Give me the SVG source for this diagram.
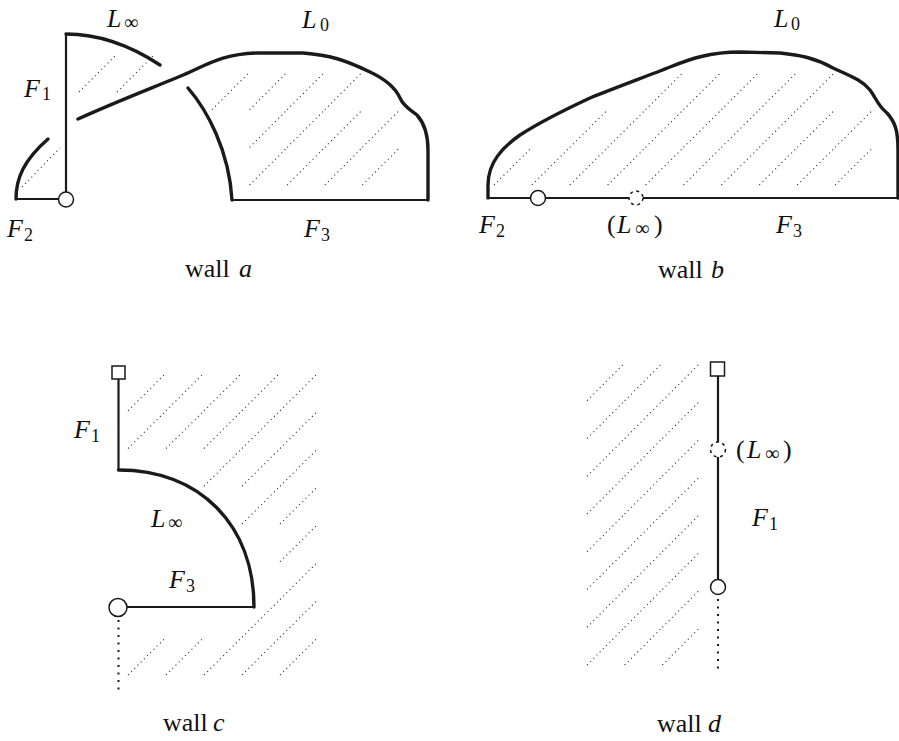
<svg xmlns="http://www.w3.org/2000/svg" width="899" height="741" viewBox="0 0 899 741">
<style>
.thick{fill:none;stroke:#1a1a1a;stroke-width:3.4;stroke-linecap:round;stroke-linejoin:round}
.thin{fill:none;stroke:#1a1a1a;stroke-width:2.2}
.hatch{fill:none;stroke:#333;stroke-width:1.1;stroke-dasharray:1.1 3.4}
.dots{fill:none;stroke:#1a1a1a;stroke-width:2;stroke-dasharray:2 5.5}
.open{fill:#fff;stroke:#1a1a1a;stroke-width:1.5}
.dash{fill:#fff;stroke:#1a1a1a;stroke-width:1.5;stroke-dasharray:3 3.6}
.m{font-family:"Liberation Serif","Times New Roman",serif;font-style:italic;font-size:26px;fill:#111}
.r{font-family:"Liberation Serif","Times New Roman",serif;font-size:26px;fill:#111}
.s{font-family:"Liberation Serif","Times New Roman",serif;font-size:18px;fill:#111}
.i{font-family:"Liberation Serif","Times New Roman",serif;font-size:20px;fill:#111}
</style>
<rect width="899" height="741" fill="#fff"/>

<g id="wall-a">
  <path class="hatch" d="M79,92l38,-38M117,92l38,-38M22,187l38,-39
  M212,109.7l37.6,-37.7M249.6,109.7l37.6,-37.7M287.2,109.7l37.6,-37.7M324.8,109.7l37.6,-37.7
  M249.6,147.4l37.6,-37.7M287.2,147.4l37.6,-37.7M324.8,147.4l37.6,-37.7M362.4,147.4l37.6,-37.7
  M249.6,185l37.6,-37.6M287.2,185l37.6,-37.6M324.8,185l37.6,-37.6M362.4,185l37.6,-37.6"/>
  <path class="thin" d="M66,34V192"/>
  <path class="thick" d="M66,34Q113,34 160,65"/>
  <path class="thick" d="M16,199C16,178 24,160 48,139"/>
  <path class="thin" d="M17,199H59"/>
  <circle class="open" cx="66" cy="199.5" r="7.5"/>
  <path class="thick" d="M78,119C120,100 160,85 190,72C210,63 225,54 257,53L303,53C330,55 345,60 370,72C385,79 395,87 400,98C404,107 412,111 417,115C425,124 428,135 428,150L428,200"/>
  <path class="thick" d="M188,88C207,110 229,150 232,200"/>
  <path class="thin" d="M232,200H429"/>
  <text class="m" x="107" y="27">L</text><text class="i" x="124" y="29">∞</text>
  <text class="m" x="302" y="28">L</text><text class="s" x="320" y="31">0</text>
  <text class="m" x="24" y="97">F</text><text class="s" x="42" y="100">1</text>
  <text class="m" x="7" y="237">F</text><text class="s" x="24" y="241">2</text>
  <text class="m" x="304" y="237">F</text><text class="s" x="321" y="241">3</text>
  <text class="r" x="185" y="277">wall</text><text class="m" x="239" y="277">a</text>
</g>

<g id="wall-b">
  <path class="hatch" d="M645.6,109.7l37.9,-37.7M683.5,109.7l37.9,-37.7M721.4,109.7l37.9,-37.7M759.3,109.7l37.9,-37.7M797.2,109.7l37.9,-37.7
  M569.8,147.4l37.9,-37.7M607.7,147.4l37.9,-37.7M645.6,147.4l37.9,-37.7M683.5,147.4l37.9,-37.7M721.4,147.4l37.9,-37.7M759.3,147.4l37.9,-37.7M797.2,147.4l37.9,-37.7M835.1,147.4l37.9,-37.7
  M494,185l37.9,-37.6M531.9,185l37.9,-37.6M569.8,185l37.9,-37.6M607.7,185l37.9,-37.6M645.6,185l37.9,-37.6M683.5,185l37.9,-37.6M721.4,185l37.9,-37.6M759.3,185l37.9,-37.6M797.2,185l37.9,-37.6M835.1,185l37.9,-37.6"/>
  <path class="thick" d="M488,198L488,185C488,162 503,147 520,135C537,124 560,112 590,98C620,86 650,75 670,67C690,59 710,52 740,52L780,53C800,55 815,58 833,68C850,76 862,80 870,90C876,98 878,106 887,113C895,122 898,130 898,150L898,198"/>
  <path class="thin" d="M488,198H898"/>
  <circle class="open" cx="538" cy="198" r="7.5"/>
  <circle class="dash" cx="636" cy="198" r="7"/>
  <text class="m" x="774" y="27">L</text><text class="s" x="791" y="30">0</text>
  <text class="m" x="479" y="233">F</text><text class="s" x="496" y="237">2</text>
  <text class="r" x="607" y="233">(</text><text class="m" x="617" y="233">L</text><text class="i" x="635" y="235">∞</text><text class="r" x="654" y="233">)</text>
  <text class="m" x="776" y="233">F</text><text class="s" x="793" y="237">3</text>
  <text class="r" x="658" y="278">wall</text><text class="m" x="711" y="278">b</text>
</g>

<g id="wall-c">
  <path class="hatch" d="M128,410.75l38,-37.75M166,410.75l38,-37.75M204,410.75l38,-37.75M242,410.75l38,-37.75M280,410.75l38,-37.75
  M128,448.5l38,-37.75M166,448.5l38,-37.75M204,448.5l38,-37.75M242,448.5l38,-37.75M280,448.5l38,-37.75
  M204,486.25l38,-37.75M242,486.25l38,-37.75M280,486.25l38,-37.75
  M242,524l38,-37.75M280,524l38,-37.75
  M280,561.75l38,-37.75
  M280,599.5l38,-37.75
  M242,637.25l38,-37.75M280,637.25l38,-37.75
  M128,675l38,-37.75M166,675l38,-37.75M204,675l38,-37.75M242,675l38,-37.75M280,675l38,-37.75"/>
  <rect class="open" x="112" y="366" width="13" height="13"/>
  <path class="thin" d="M118.5,379V470"/>
  <path class="thick" d="M118.5,470C200,470 254,525 254,607"/>
  <path class="thin" d="M126,607H254"/>
  <circle class="open" cx="118" cy="607.5" r="9"/>
  <path class="dots" d="M118.5,620V690"/>
  <text class="m" x="74" y="438">F</text><text class="s" x="91" y="442">1</text>
  <text class="m" x="151" y="527">L</text><text class="i" x="168" y="529">∞</text>
  <text class="m" x="169" y="588">F</text><text class="s" x="186" y="592">3</text>
  <text class="r" x="163" y="731">wall</text><text class="m" x="213" y="731">c</text>
</g>

<g id="wall-d">
  <path class="hatch" d="M587,400.75l37.7,-37.75M624.7,400.75l37.7,-37.75M662.4,400.75l37.7,-37.75
  M587,438.5l37.7,-37.75M624.7,438.5l37.7,-37.75M662.4,438.5l37.7,-37.75
  M587,476.25l37.7,-37.75M624.7,476.25l37.7,-37.75M662.4,476.25l37.7,-37.75
  M587,514l37.7,-37.75M624.7,514l37.7,-37.75M662.4,514l37.7,-37.75
  M587,551.75l37.7,-37.75M624.7,551.75l37.7,-37.75M662.4,551.75l37.7,-37.75
  M587,589.5l37.7,-37.75M624.7,589.5l37.7,-37.75M662.4,589.5l37.7,-37.75
  M587,627.25l37.7,-37.75M624.7,627.25l37.7,-37.75M662.4,627.25l37.7,-37.75
  M587,665l37.7,-37.75M624.7,665l37.7,-37.75M662.4,665l37.7,-37.75"/>
  <path class="thin" d="M718,376V580"/>
  <rect class="open" x="710.5" y="362" width="14" height="14"/>
  <circle class="dash" cx="718" cy="449.5" r="7.5"/>
  <circle class="open" cx="718" cy="587" r="7.5"/>
  <path class="dots" d="M718,599V670"/>
  <text class="r" x="736" y="458">(</text><text class="m" x="747" y="458">L</text><text class="i" x="765" y="460">∞</text><text class="r" x="783" y="458">)</text>
  <text class="m" x="752" y="526">F</text><text class="s" x="769" y="530">1</text>
  <text class="r" x="657" y="732">wall</text><text class="m" x="708" y="732">d</text>
</g>
</svg>
